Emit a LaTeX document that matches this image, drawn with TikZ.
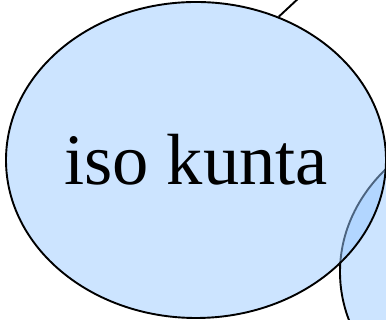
\documentclass[tikz,border=0pt]{standalone}
\usepackage{fontspec}
\setmainfont{Liberation Serif}
\usetikzlibrary{shapes.geometric}
\definecolor{bubble}{RGB}{153,201,255}
\tikzset{
  bubblenode/.style={ellipse, draw=black, line width=1.9pt, fill=bubble, fill opacity=0.5, text opacity=1,
    minimum width=380pt, minimum height=316pt, inner sep=0pt,
    font=\fontsize{72.5}{80}\selectfont},
  link/.style={draw=black, line width=1.9pt}
}
\begin{document}
\begin{tikzpicture}[x=1pt,y=1pt]
\useasboundingbox (0,0) rectangle (386,320);
\clip (0,0) rectangle (386,320);
\node[bubblenode] (b) at (530,48) {};
\node[bubblenode] (a) at (196,160) {iso kunta};
\coordinate (t) at (315,337);
\draw[link] (a.60.2) -- (t);
\end{tikzpicture}
\end{document}
